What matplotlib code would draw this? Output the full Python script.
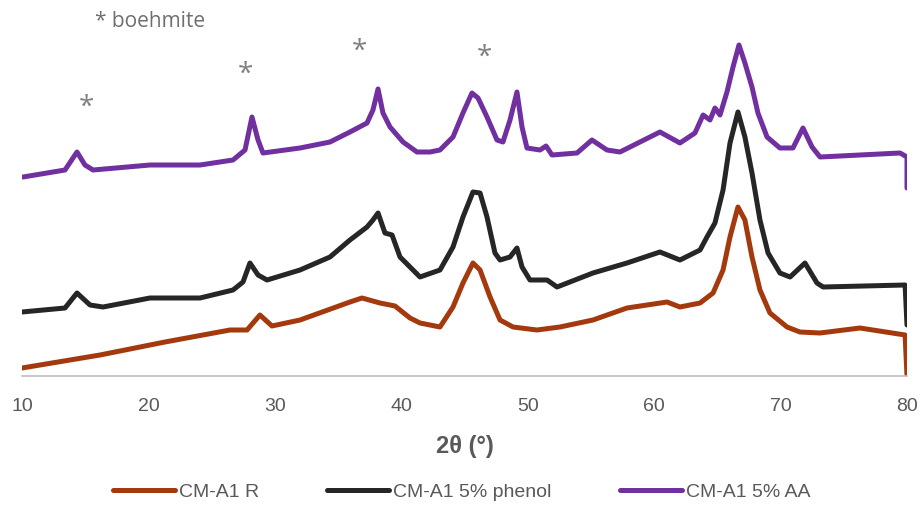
import matplotlib
matplotlib.use("Agg")
import matplotlib.pyplot as plt

# XRD patterns (2theta in degrees, intensity in arbitrary units)
r_2theta = [10.00, 16.17, 21.31, 26.45, 27.80, 28.82, 29.77, 31.99, 35.94, 36.89,
            38.32, 39.50, 40.69, 41.48, 43.06, 44.09, 44.88, 45.67, 46.23, 47.02,
            47.81, 48.84, 50.73, 52.55, 55.16, 57.85, 61.02, 62.04, 63.63, 64.66,
            65.45, 66.00, 66.63, 67.18, 67.74, 68.37, 69.16, 70.51, 71.53, 73.12,
            76.28, 79.85, 80.00]
r_int = [8, 21, 34, 46, 46, 61, 50, 56, 74, 78,
         73, 70, 58, 53, 49, 69, 93, 113, 106, 79,
         56, 49, 46, 49, 56, 68, 74, 69, 73, 83,
         106, 139, 169, 156, 119, 86, 63, 49, 44, 43,
         48, 41, 0]

ph_2theta = [10.00, 13.40, 14.35, 15.38, 16.41, 20.12, 24.08, 26.69, 27.48, 28.03,
             28.67, 29.38, 31.99, 34.36, 35.94, 37.29, 37.76, 38.16, 38.71, 39.27,
             39.90, 40.69, 41.48, 43.06, 44.09, 44.88, 45.67, 46.23, 46.78, 47.41,
             47.81, 48.60, 49.15, 49.55, 50.18, 51.53, 52.32, 55.16, 57.85, 60.46,
             62.04, 63.63, 64.18, 64.81, 65.45, 66.00, 66.63, 67.18, 67.74, 68.37,
             69.01, 69.95, 70.75, 71.93, 72.88, 73.36, 79.85, 80.00]
ph_int = [64, 68, 83, 71, 69, 78, 78, 86, 94, 113,
          101, 96, 106, 119, 136, 149, 156, 163, 143, 141,
          119, 109, 99, 106, 129, 159, 184, 183, 159, 123,
          116, 119, 128, 109, 96, 96, 89, 103, 113, 124,
          116, 126, 139, 153, 186, 233, 264, 239, 203, 156,
          123, 103, 99, 113, 93, 89, 91, 51]

aa_2theta = [10.08, 13.40, 14.35, 14.98, 15.62, 20.12, 24.08, 26.69, 27.64, 28.19,
             28.67, 29.06, 31.99, 34.36, 35.94, 37.29, 37.76, 38.16, 38.55, 39.11,
             40.14, 41.24, 42.27, 43.06, 44.09, 44.88, 45.59, 46.07, 46.78, 47.57,
             48.04, 48.60, 49.15, 49.55, 49.94, 50.97, 51.45, 51.92, 53.90, 55.08,
             56.27, 57.30, 60.46, 62.04, 63.23, 63.87, 64.42, 64.81, 65.21, 65.76,
             66.24, 66.71, 67.18, 67.74, 68.21, 68.93, 69.95, 70.98, 71.77, 72.49,
             73.12, 79.45, 80.00, 80.00]
aa_int = [199, 206, 224, 211, 206, 211, 211, 216, 226, 259,
          236, 223, 228, 234, 244, 253, 266, 287, 263, 249,
          234, 224, 224, 226, 239, 263, 283, 278, 259, 236,
          234, 256, 284, 249, 228, 226, 230, 221, 223, 236,
          226, 224, 244, 233, 243, 261, 256, 268, 261, 284,
          309, 331, 313, 289, 263, 239, 228, 228, 248, 229,
          219, 223, 219, 188]

labels = ["CM-A1 R", "CM-A1 5% phenol", "CM-A1 5% AA"]
colors = ["#A5390E", "#262626", "#7030A0"]

# boehmite reflections marked with an asterisk
star_2theta = [15.06, 27.64, 36.65, 46.54]
star_int = [268, 301, 324, 318]

grey = "#808080"
plt.rcParams["font.family"] = ["Liberation Sans Narrow", "Liberation Sans", "DejaVu Sans"]

fig = plt.figure(figsize=(9.23, 5.2), dpi=100)
ax = fig.add_axes([22 / 923, 1 - 376 / 520, 885 / 923, 366 / 520])

for xs, ys, lab, c in zip([r_2theta, ph_2theta, aa_2theta],
                          [r_int, ph_int, aa_int], labels, colors):
    ax.plot(xs, ys, color=c, lw=3.6, label=lab, solid_joinstyle="round",
            solid_capstyle="round")

for x, y in zip(star_2theta, star_int):
    ax.text(x, y, "*", ha="center", va="center", fontsize=20, color=grey,
            family=["Open Sans", "DejaVu Sans"])
ax.text(20.12, 354, "* boehmite", ha="center", va="center", fontsize=15,
        color="#6f6f6f", family=["Open Sans", "DejaVu Sans"])

ax.set_xlim(10, 80)
ax.set_ylim(0, 366)
ax.set_xticks(range(10, 81, 10))
ax.set_yticks([])
for s in ["top", "right", "left"]:
    ax.spines[s].set_visible(False)
ax.spines["bottom"].set_color("#bfbfbf")
ax.spines["bottom"].set_linewidth(1.2)
ax.tick_params(axis="x", length=0, pad=16, labelsize=14, labelcolor="#595959")
ax.set_xlabel("2θ (°)", fontsize=17, fontweight="bold", color="#595959", labelpad=14)

fig.legend(loc="center", bbox_to_anchor=(0.5, 1 - 492 / 520), ncol=3, frameon=False,
           fontsize=14, handlelength=3.2, handletextpad=0.2, columnspacing=3.5,
           labelcolor="#595959")

fig.savefig("out.png", dpi=100)
